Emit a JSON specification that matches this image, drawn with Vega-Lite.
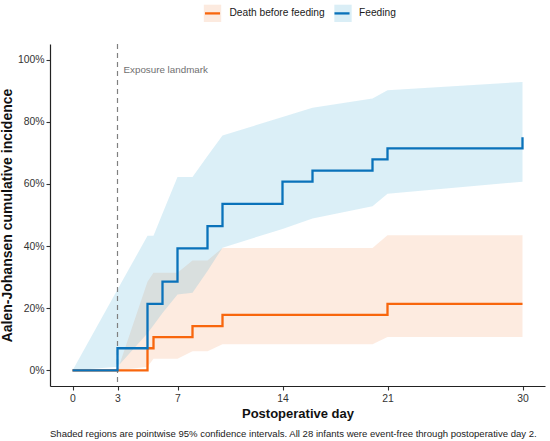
{
  "$schema": "https://vega.github.io/schema/vega-lite/v6.json",
  "width": 495,
  "height": 342,
  "autosize": "none",
  "padding": {"left": 50, "top": 44, "right": 5, "bottom": 55},
  "background": "white",
  "title": {
    "text": "Shaded regions are pointwise 95% confidence intervals. All 28 infants were event-free through postoperative day 2.",
    "orient": "bottom",
    "anchor": "start",
    "frame": "group",
    "font": "Liberation Sans",
    "fontSize": 9.55,
    "fontWeight": "normal",
    "color": "#1a1a1a",
    "offset": 8
  },
  "config": {
    "view": {"stroke": null},
    "font": "Liberation Sans",
    "axis": {
      "grid": false,
      "domainColor": "#222222",
      "domainWidth": 1.2,
      "tickColor": "#333333",
      "tickWidth": 1.1,
      "tickSize": 4,
      "labelFont": "Liberation Sans",
      "labelFontSize": 10.4,
      "labelColor": "#333333",
      "titleFont": "Liberation Sans",
      "titleFontWeight": "bold",
      "titleColor": "#111111"
    }
  },
  "datasets": {
    "bands": [
      {"series": "Death before feeding", "day": 0, "lo": 0, "hi": 0},
      {"series": "Death before feeding", "day": 3, "lo": 0, "hi": 0},
      {"series": "Death before feeding", "day": 5, "lo": 0.012, "hi": 0.285},
      {"series": "Death before feeding", "day": 5.4, "lo": 0.038, "hi": 0.314},
      {"series": "Death before feeding", "day": 6, "lo": 0.038, "hi": 0.314},
      {"series": "Death before feeding", "day": 7, "lo": 0.038, "hi": 0.314},
      {"series": "Death before feeding", "day": 8, "lo": 0.062, "hi": 0.354},
      {"series": "Death before feeding", "day": 9, "lo": 0.062, "hi": 0.354},
      {"series": "Death before feeding", "day": 10, "lo": 0.084, "hi": 0.394},
      {"series": "Death before feeding", "day": 14, "lo": 0.084, "hi": 0.394},
      {"series": "Death before feeding", "day": 16, "lo": 0.084, "hi": 0.394},
      {"series": "Death before feeding", "day": 20, "lo": 0.084, "hi": 0.394},
      {"series": "Death before feeding", "day": 21, "lo": 0.108, "hi": 0.435},
      {"series": "Death before feeding", "day": 30, "lo": 0.108, "hi": 0.435},
      {"series": "Feeding", "day": 0, "lo": 0, "hi": 0},
      {"series": "Feeding", "day": 3, "lo": 0.012, "hi": 0.26},
      {"series": "Feeding", "day": 5, "lo": 0.12, "hi": 0.433},
      {"series": "Feeding", "day": 5.4, "lo": 0.145, "hi": 0.433},
      {"series": "Feeding", "day": 6, "lo": 0.185, "hi": 0.505},
      {"series": "Feeding", "day": 7, "lo": 0.244, "hi": 0.622},
      {"series": "Feeding", "day": 8, "lo": 0.25, "hi": 0.622},
      {"series": "Feeding", "day": 9, "lo": 0.32, "hi": 0.69},
      {"series": "Feeding", "day": 10, "lo": 0.395, "hi": 0.756},
      {"series": "Feeding", "day": 14, "lo": 0.455, "hi": 0.815},
      {"series": "Feeding", "day": 16, "lo": 0.489, "hi": 0.845},
      {"series": "Feeding", "day": 20, "lo": 0.528, "hi": 0.875},
      {"series": "Feeding", "day": 21, "lo": 0.568, "hi": 0.901},
      {"series": "Feeding", "day": 30, "lo": 0.607, "hi": 0.928}
    ],
    "steps": [
      {"series": "Death before feeding", "day": 0, "est": 0},
      {"series": "Death before feeding", "day": 5, "est": 0.0714},
      {"series": "Death before feeding", "day": 5.4, "est": 0.1071},
      {"series": "Death before feeding", "day": 8, "est": 0.1429},
      {"series": "Death before feeding", "day": 10, "est": 0.1786},
      {"series": "Death before feeding", "day": 21, "est": 0.2143},
      {"series": "Death before feeding", "day": 30, "est": 0.2143},
      {"series": "Feeding", "day": 0, "est": 0},
      {"series": "Feeding", "day": 3, "est": 0.0714},
      {"series": "Feeding", "day": 5, "est": 0.2143},
      {"series": "Feeding", "day": 6, "est": 0.2857},
      {"series": "Feeding", "day": 7, "est": 0.3929},
      {"series": "Feeding", "day": 9, "est": 0.4643},
      {"series": "Feeding", "day": 10, "est": 0.5357},
      {"series": "Feeding", "day": 14, "est": 0.6071},
      {"series": "Feeding", "day": 16, "est": 0.6429},
      {"series": "Feeding", "day": 20, "est": 0.6786},
      {"series": "Feeding", "day": 21, "est": 0.7143},
      {"series": "Feeding", "day": 30, "est": 0.75}
    ],
    "landmark": [
      {"day": 3, "y": 0.965, "label": "Exposure landmark"}
    ]
  },
  "layer": [
    {
      "data": {"name": "bands"},
      "mark": {"type": "area", "opacity": 0.2},
      "encoding": {
        "x": {
          "field": "day",
          "type": "quantitative",
          "scale": {"domain": [-1.5, 31.5], "nice": false, "zero": false},
          "axis": {
            "values": [0, 3, 7, 14, 21, 30],
            "title": "Postoperative day",
            "titleFontSize": 13,
            "labelPadding": 3.5,
            "titlePadding": 4
          }
        },
        "y": {
          "field": "lo",
          "type": "quantitative",
          "scale": {"domain": [-0.05, 1.05], "nice": false, "zero": false},
          "axis": {
            "values": [0, 0.2, 0.4, 0.6, 0.8, 1],
            "format": ".0%",
            "title": "Aalen-Johansen cumulative incidence",
            "titleFontSize": 14,
            "labelPadding": 2,
            "titlePadding": 3
          }
        },
        "y2": {"field": "hi"},
        "fill": {
          "field": "series",
          "type": "nominal",
          "scale": {"range": ["#F59B64", "#4BAFD7"]},
          "legend": {
            "title": null,
            "orient": "none",
            "legendX": 152.5,
            "legendY": -41,
            "direction": "horizontal",
            "padding": 0,
            "symbolType": "square",
            "symbolSize": 300,
            "symbolOpacity": 0.2,
            "symbolStrokeWidth": 2.3,
            "symbolStrokeColor": "transparent",
            "labelExpr": "''",
            "labelFontSize": 10.2,
            "labelOffset": 7,
            "columnPadding": 99.5
          }
        }
      }
    },
    {
      "data": {"name": "landmark"},
      "mark": {"type": "rule", "strokeDash": [5, 4], "color": "#808080", "strokeWidth": 1.2},
      "encoding": {
        "x": {"field": "day", "type": "quantitative"}
      }
    },
    {
      "data": {"name": "landmark"},
      "mark": {"type": "text", "align": "left", "baseline": "middle", "dx": 6, "font": "Liberation Sans", "fontSize": 9.8, "color": "#707070"},
      "encoding": {
        "x": {"field": "day", "type": "quantitative"},
        "y": {"field": "y", "type": "quantitative"},
        "text": {"field": "label"}
      }
    },
    {
      "data": {"name": "steps"},
      "mark": {"type": "line", "interpolate": "step-after", "strokeWidth": 2.3},
      "encoding": {
        "x": {"field": "day", "type": "quantitative"},
        "y": {"field": "est", "type": "quantitative"},
        "stroke": {
          "field": "series",
          "type": "nominal",
          "scale": {"range": ["#F8660D", "#0A72BA"]},
          "legend": {
            "title": null,
            "orient": "none",
            "legendX": 152.5,
            "legendY": -41,
            "direction": "horizontal",
            "padding": 0,
            "symbolType": "M-0.87,0H0.87",
            "symbolSize": 300,
            "symbolStrokeWidth": 2.3,
            "labelFont": "Liberation Sans",
            "labelFontSize": 10.2,
            "labelColor": "#1a1a1a",
            "labelOffset": 7,
            "columnPadding": 3.5
          }
        }
      }
    }
  ]
}
